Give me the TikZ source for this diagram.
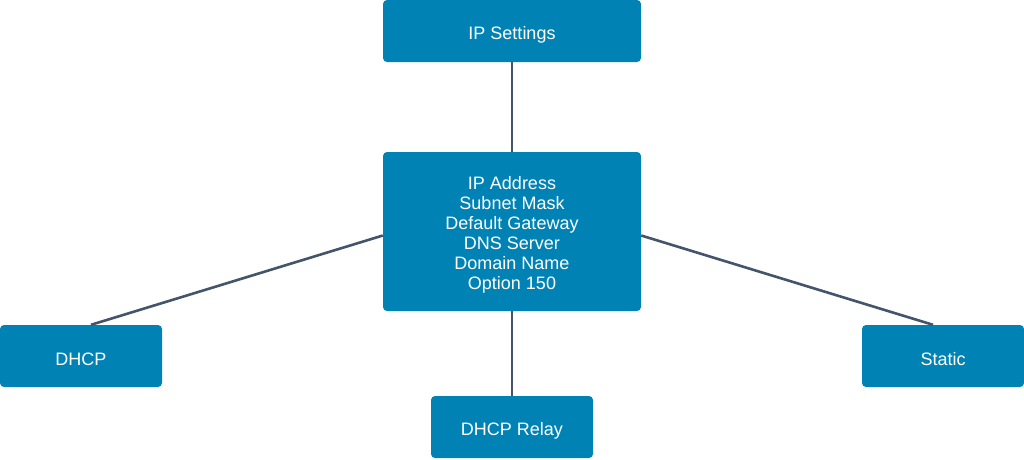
\documentclass[tikz,border=0pt]{standalone}
\usepackage{fontspec}
\setmainfont{Liberation Sans}
\definecolor{boxblue}{RGB}{0,131,180}
\definecolor{linkgray}{RGB}{68,84,106}
\begin{document}
\begin{tikzpicture}[x=1pt,y=-1pt,
  box/.style={draw=none,fill=boxblue,rounded corners=4pt,inner sep=0pt},
  txt/.style={text=white,font=\fontsize{18}{20}\selectfont,align=center,inner sep=0pt,yshift=-3.5pt},
  link/.style={draw=linkgray,line width=2.6pt}]
\useasboundingbox (0,0) rectangle (1024,459);
\node[box,minimum width=258pt,minimum height=62pt] (ips) at (512,31) {};
\node[box,minimum width=258pt,minimum height=159pt] (mid) at (512,231.5) {};
\node[box,minimum width=162pt,minimum height=62pt] (dhcp) at (81,356) {};
\node[box,minimum width=162pt,minimum height=62pt] (static) at (943,356) {};
\node[box,minimum width=162pt,minimum height=62pt] (relay) at (512,427) {};
\node[txt] (ipsT) at (ips.center) {IP Settings};
\node[txt] (midT) at (mid.center) {IP Address\\Subnet Mask\\Default Gateway\\DNS Server\\Domain Name\\Option 150};
\node[txt] (dhcpT) at (dhcp.center) {DHCP};
\node[txt] (staticT) at (static.center) {Static};
\node[txt] (relayT) at (relay.center) {DHCP Relay};
\draw[link] (ips.south) -- (mid.north);
\draw[link] ([yshift=-4pt]mid.west) -- ([xshift=10pt]dhcp.north);
\draw[link] ([yshift=-4pt]mid.east) -- ([xshift=-10pt]static.north);
\draw[link] (mid.south) -- (relay.north);
\end{tikzpicture}
\end{document}
